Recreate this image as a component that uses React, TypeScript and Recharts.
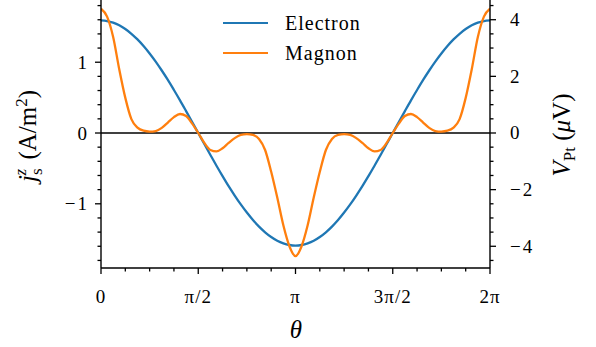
import { LineChart, Line, XAxis, YAxis, ReferenceLine, Legend } from 'recharts'

// samples every pi/32 from 0 to 2pi
const electron = [
  1.59, 1.582, 1.559, 1.522, 1.469, 1.402, 1.322, 1.229, 1.124, 1.009, 0.883, 0.75, 0.608, 0.462, 0.31, 0.156,
  0, -0.156, -0.31, -0.462, -0.608, -0.75, -0.883, -1.009, -1.124, -1.229, -1.322, -1.402, -1.469, -1.522, -1.559, -1.582,
  -1.59, -1.582, -1.559, -1.522, -1.469, -1.402, -1.322, -1.229, -1.124, -1.009, -0.883, -0.75, -0.608, -0.462, -0.31, -0.156,
  0, 0.156, 0.31, 0.462, 0.608, 0.75, 0.883, 1.009, 1.124, 1.229, 1.322, 1.402, 1.469, 1.522, 1.559, 1.582,
  1.59,
]

const magnon = [
  4.39, 4.11, 3.39, 2.25, 1.24, 0.49, 0.19, 0.08, 0.05, 0.07, 0.18, 0.37, 0.56, 0.67, 0.6, 0.33,
  0, -0.35, -0.6, -0.65, -0.54, -0.35, -0.18, -0.07, -0.04, -0.07, -0.21, -0.6, -1.37, -2.28, -3.26, -4.0,
  -4.35, -4.0, -3.26, -2.28, -1.37, -0.6, -0.21, -0.07, -0.04, -0.07, -0.18, -0.35, -0.54, -0.65, -0.6, -0.35,
  0, 0.33, 0.6, 0.67, 0.56, 0.37, 0.18, 0.07, 0.05, 0.08, 0.19, 0.49, 1.24, 2.25, 3.39, 4.11,
  4.39,
]

// theta in units of pi
const theta = electron.map((_, i) => i / 32)

const xTicks = [0, 0.125, 0.25, 0.375, 0.5, 0.625, 0.75, 0.875, 1, 1.125, 1.25, 1.375, 1.5, 1.625, 1.75, 1.875, 2]
const xLabels: Record<string, string> = { '0': '0', '0.5': 'π/2', '1': 'π', '1.5': '3π/2', '2': '2π' }

const jTicks = [-1.8, -1.6, -1.4, -1.2, -1, -0.8, -0.6, -0.4, -0.2, 0, 0.2, 0.4, 0.6, 0.8, 1, 1.2, 1.4, 1.6, 1.8]
const jLabels: Record<string, string> = { '-1': '−1', '0': '0', '1': '1' }

const vTicks = [-4.5, -4, -3.5, -3, -2.5, -2, -1.5, -1, -0.5, 0, 0.5, 1, 1.5, 2, 2.5, 3, 3.5, 4, 4.5]
const vLabels: Record<string, string> = { '-4': '−4', '-2': '−2', '0': '0', '2': '2', '4': '4' }

const data = theta.map((t, i) => ({ theta: t, electron: electron[i], magnon: magnon[i] }))

const FONT = '"Liberation Serif", serif'
const INK = '#000'
const TICK_FS = 19

function XTick({ x, y, payload }: any) {
  const label = xLabels[String(payload.value)]
  return (
    <g>
      <line x1={x} x2={x} y1={y} y2={y + (label ? 6 : 3.5)} stroke={INK} strokeWidth={1.3} />
      {label && (
        <text x={x} y={y + 35} textAnchor="middle" fontSize={TICK_FS} fontFamily={FONT} fill={INK} letterSpacing={1}>
          {label}
        </text>
      )}
    </g>
  )
}

function LeftTick({ x, y, payload }: any) {
  const label = jLabels[String(payload.value)]
  return (
    <g>
      <line x1={x - (label ? 6 : 3.5)} x2={x} y1={y} y2={y} stroke={INK} strokeWidth={1.3} />
      {label && (
        <text x={x - 12} y={y + 6.5} textAnchor="end" fontSize={TICK_FS} fontFamily={FONT} fill={INK} letterSpacing={2}>
          {label}
        </text>
      )}
    </g>
  )
}

function RightTick({ x, y, payload }: any) {
  const label = vLabels[String(payload.value)]
  return (
    <g>
      <line x1={x} x2={x + (label ? 6 : 3.5)} y1={y} y2={y} stroke={INK} strokeWidth={1.3} />
      {label && (
        <text x={x + 20} y={y + 6.5} textAnchor="start" fontSize={TICK_FS} fontFamily={FONT} fill={INK} letterSpacing={2}>
          {label}
        </text>
      )}
    </g>
  )
}

const leftLabel = () => (
  <text x={36} y={136} transform="rotate(-90 36 136)" textAnchor="middle" fontSize={25} fontFamily={FONT} fill={INK}>
    <tspan fontStyle="italic">j</tspan>
    <tspan fontSize={17} dy={6}>s</tspan>
    <tspan fontSize={17} fontStyle="italic" dx={-7} dy={-16}>z</tspan>
    <tspan dy={10} dx={3}>{' (A/m'}</tspan>
    <tspan fontSize={17} dy={-9}>2</tspan>
    <tspan dy={9}>)</tspan>
  </text>
)

const rightLabel = () => (
  <text x={570} y={135} transform="rotate(-90 570 135)" textAnchor="middle" fontSize={25} fontFamily={FONT} fill={INK}>
    <tspan fontStyle="italic">V</tspan>
    <tspan fontSize={17} dy={5}>Pt</tspan>
    <tspan dy={-5}>{' ('}</tspan>
    <tspan fontStyle="italic">μ</tspan>
    <tspan>V)</tspan>
  </text>
)

const xLabel = () => (
  <text x={296} y={338} textAnchor="middle" fontSize={25} fontStyle="italic" fontFamily={FONT} fill={INK}>
    θ
  </text>
)

function LegendBox({ payload }: any) {
  return (
    <div style={{ fontFamily: FONT, fontSize: 20, color: INK, letterSpacing: 1 }}>
      {(payload || []).map((p: any) => (
        <div key={p.value} style={{ display: 'flex', alignItems: 'center', height: 30 }}>
          <span style={{ display: 'inline-block', width: 45, height: 0, borderTop: `2.3px solid ${p.color}`, marginRight: 17 }} />
          <span>{p.value}</span>
        </div>
      ))}
    </div>
  )
}

export default function App() {
  return (
    <div style={{ position: 'absolute', left: 0, top: 0, width: 596, height: 347, background: '#fff' }}>
      <LineChart width={596} height={347} data={data} margin={{ top: 0, right: 0, bottom: 0, left: 0 }}>
        <XAxis
          dataKey="theta"
          type="number"
          domain={[0, 2]}
          ticks={xTicks}
          interval={0}
          allowDataOverflow
          height={79}
          tickSize={0}
          tickMargin={0}
          tickLine={false}
          tick={<XTick />}
          axisLine={{ stroke: INK, strokeWidth: 1.4 }}
          label={xLabel}
        />
        <YAxis
          yAxisId="j"
          orientation="left"
          type="number"
          domain={[-1.907, 1.879]}
          ticks={jTicks}
          interval={0}
          allowDataOverflow
          width={101}
          tickSize={0}
          tickMargin={0}
          tickLine={false}
          tick={<LeftTick />}
          axisLine={{ stroke: INK, strokeWidth: 1.4 }}
          label={leftLabel}
        />
        <YAxis
          yAxisId="v"
          orientation="right"
          type="number"
          domain={[-4.767, 4.696]}
          ticks={vTicks}
          interval={0}
          allowDataOverflow
          width={106}
          tickSize={0}
          tickMargin={0}
          tickLine={false}
          tick={<RightTick />}
          axisLine={{ stroke: INK, strokeWidth: 1.4 }}
          label={rightLabel}
        />
        <ReferenceLine yAxisId="j" y={0} stroke={INK} strokeWidth={1.5} />
        <Line
          yAxisId="j"
          dataKey="electron"
          name="Electron"
          type="monotone"
          stroke="#1f77b4"
          strokeWidth={2.3}
          dot={false}
          isAnimationActive={false}
        />
        <Line
          yAxisId="v"
          dataKey="magnon"
          name="Magnon"
          type="monotone"
          stroke="#ff7f0e"
          strokeWidth={2.3}
          dot={false}
          isAnimationActive={false}
        />
        <Legend
          layout="vertical"
          align="center"
          verticalAlign="middle"
          content={<LegendBox />}
          wrapperStyle={{ position: 'absolute', left: 223, top: 8, width: 180 }}
        />
      </LineChart>
    </div>
  )
}
